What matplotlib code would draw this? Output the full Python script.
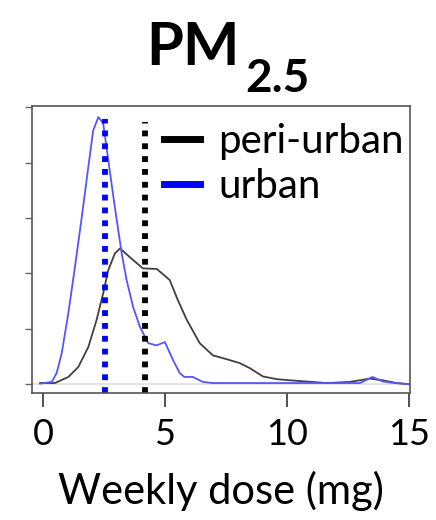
import matplotlib
matplotlib.use("Agg")
import matplotlib.pyplot as plt

# density curves (weekly dose in mg vs density)
peri_x = [-0.12, 0.49, 1.04, 1.45, 1.86, 2.2, 2.47, 2.68, 2.95, 3.16, 3.57, 4.1, 4.67,
          5.2, 5.53, 5.9, 6.43, 6.97, 7.54, 8.07, 8.48, 9.02, 9.59, 10.12, 11.64,
          12.58, 13.4, 13.93, 14.5, 15.0]
peri_y = [0.002, 0.002, 0.013, 0.031, 0.067, 0.116, 0.164, 0.206, 0.236, 0.245, 0.229,
          0.209, 0.208, 0.188, 0.152, 0.116, 0.074, 0.052, 0.045, 0.038, 0.029, 0.014,
          0.009, 0.007, 0.002, 0.004, 0.010, 0.007, 0.002, 0.0]

urban_x = [-0.12, 0.36, 0.56, 0.77, 1.04, 1.31, 1.59, 1.86, 2.06, 2.27, 2.47, 2.68, 2.95,
           3.23, 3.43, 3.7, 3.98, 4.32, 4.66, 5.0, 5.34, 5.61, 5.8, 6.15, 6.56, 6.97,
           13.0, 13.52, 13.93, 14.43, 15.0]
urban_y = [0.001, 0.004, 0.020, 0.056, 0.128, 0.211, 0.301, 0.392, 0.458, 0.482, 0.471,
           0.404, 0.319, 0.236, 0.188, 0.139, 0.103, 0.074, 0.070, 0.076, 0.043, 0.020,
           0.013, 0.013, 0.004, 0.002, 0.002, 0.013, 0.005, 0.002, 0.0]

# group means (dotted lines)
peri_mean = 4.18
urban_mean = 2.54

xticks = [0, 5, 10, 15]
yticks = [0, 0.1, 0.2, 0.3, 0.4, 0.5]

plt.rcParams['font.family'] = ['Lato', 'DejaVu Sans']

fig = plt.figure(figsize=(4.36, 5.2), dpi=100)
ax = fig.add_axes([0.0734, 0.2442, 0.8666, 0.5518])

ax.axhline(0, color='#e4e4e4', lw=1.5, zorder=0)
ax.plot(peri_x, peri_y, color='#404040', lw=1.3, solid_joinstyle='round')
ax.plot(urban_x, urban_y, color='#5555ff', lw=1.3, solid_joinstyle='round')

ax.axvline(urban_mean, ymin=0, ymax=0.955, color='#0000ff', lw=4.2,
           linestyle=(0, (1, 1.2)))
ax.axvline(peri_mean, ymin=0, ymax=0.945, color='black', lw=4.2,
           linestyle=(0, (1, 1.2)))

ax.set_xlim(-0.45, 15.05)
ax.set_ylim(-0.016, 0.502)
ax.set_xticks(xticks)
ax.set_xticklabels([str(t) for t in xticks])
ax.set_yticks(yticks)
ax.set_yticklabels([])
ax.tick_params(axis='x', length=10, width=1.2, color='#333333', labelsize=26, pad=8)
ax.tick_params(axis='y', length=5, width=1, color='#666666')
for s in ax.spines.values():
    s.set_color('#555555')
    s.set_linewidth(1.2)

ax.set_xlabel('Weekly dose (mg)', fontsize=30, labelpad=14)

# legend drawn like R's
leg = ax.legend(handles=[plt.Line2D([], [], color='black', lw=5),
                         plt.Line2D([], [], color='#0000ff', lw=5)],
                labels=['peri-urban', 'urban'], loc='upper right',
                bbox_to_anchor=(1.0, 0.962), frameon=False,
                fontsize=29, handlelength=0.9, handletextpad=0.45, labelspacing=0.2,
                borderaxespad=0.05, borderpad=0.1)

fig.text(0.55, 0.875, 'PM', fontsize=43, fontweight='bold', ha='right', va='baseline')
fig.text(0.562, 0.823, '2.5', fontsize=33, fontweight='bold', ha='left', va='baseline')

fig.savefig('out.png', dpi=100)
